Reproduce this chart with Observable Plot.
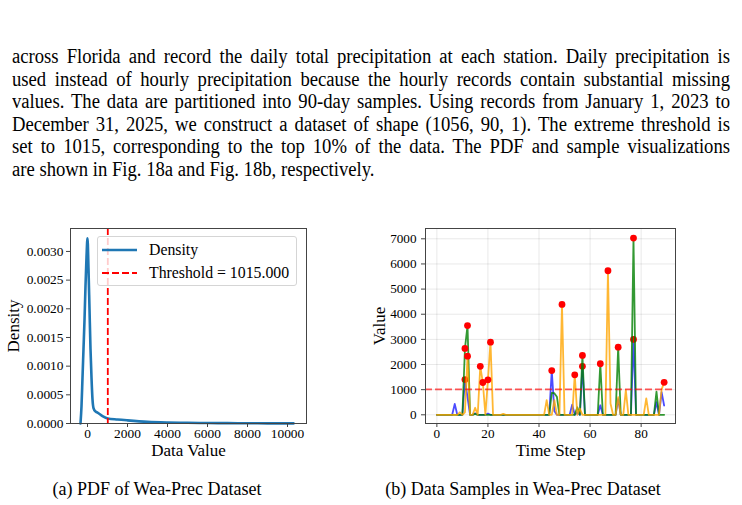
<!DOCTYPE html>
<html><head><meta charset="utf-8">
<script src="https://cdn.jsdelivr.net/npm/d3@7"></script>
<script src="https://cdn.jsdelivr.net/npm/@observablehq/plot@0.6"></script>
<style>
body{margin:0;background:#fff;}
#page{position:relative;width:742px;height:505px;overflow:hidden;font-family:"Liberation Serif","Times New Roman",serif;color:#000;background:#fff;}
.para{position:absolute;left:12px;top:45px;width:789px;font-size:20.5px;line-height:22.6px;transform:scaleX(0.91);transform-origin:0 0;}
.para div{text-align:justify;text-align-last:justify;white-space:nowrap;}
.para div.last{text-align-last:left;}
.chart{position:absolute;top:225px;}
.legend{position:absolute;left:97px;top:236px;width:200px;height:50px;background:rgba(255,255,255,0.8);border:1px solid #d5d5d5;border-radius:3px;box-sizing:border-box;}
.legend svg{position:absolute;left:0;top:0;}
.legend span{position:absolute;left:51px;font-size:15.8px;white-space:nowrap;line-height:18px;}
.cap{position:absolute;top:479px;font-size:18px;white-space:nowrap;transform:translateX(-50%);}
</style></head>
<body><div id="page">
<div class="para">
<div>across Florida and record the daily total precipitation at each station. Daily precipitation is</div>
<div>used instead of hourly precipitation because the hourly records contain substantial missing</div>
<div>values. The data are partitioned into 90-day samples. Using records from January 1, 2023 to</div>
<div>December 31, 2025, we construct a dataset of shape (1056, 90, 1). The extreme threshold is</div>
<div>set to 1015, corresponding to the top 10% of the data. The PDF and sample visualizations</div>
<div class="last">are shown in Fig. 18a and Fig. 18b, respectively.</div>
</div>
<div id="left" class="chart" style="left:0px"></div>
<div id="right" class="chart" style="left:360px"></div>
<div class="legend">
<svg width="200" height="50"><line x1="4" x2="39" y1="13" y2="13" stroke="#1f77b4" stroke-width="2.6"/><line x1="4" x2="39" y1="36" y2="36" stroke="red" stroke-width="1.8" stroke-dasharray="7,3"/></svg>
<span style="top:4px">Density</span>
<span style="top:27px">Threshold = 1015.000</span>
</div>
<div class="cap" style="left:157px">(a) PDF of Wea-Prec Dataset</div>
<div class="cap" style="left:523px">(b) Data Samples in Wea-Prec Dataset</div>
</div>
<script>
// ---- Left panel: KDE of data values ----
const kdeX = [-350,-300,-250,-200,-150,-100,-50,0,50,100,150,200,250,300,400,500,750,1015,1500,2000,3000,4000,5000,6000,7000,8000,9000,10300];
const kdeY = [0,0.0003,0.0008,0.0013,0.0018,0.0024,0.0029,0.00323,0.0027,0.0020,0.0013,0.0008,0.00042,0.00027,0.00021,0.00019,0.00013,0.000088,0.00007,0.000055,0.00003,0.000018,0.000012,0.000008,0.000006,0.000004,0.000003,0.000002];
const threshold = 1015;
const leftXTicks = [0,2000,4000,6000,8000,10000];
const leftYTicks = [0,0.0005,0.0010,0.0015,0.0020,0.0025,0.0030];

// ---- Right panel: three 90-day samples ----
const sampleBlue = [0,0,0,0,0,0,0,430,0,0, 0,1400,700,0,0,60,0,0,0,0, 50,0,0,0,0,0,0,0,0,0, 0,0,0,0,0,0,0,0,0,0, 0,0,0,0,0,1760,150,0,0,0, 0,0,0,400,0,100,0,1930,0,0, 0,0,0,0,380,0,0,0,0,0, 0,620,0,0,0,0,0,3000,0,0, 0,0,0,0,0,0,500,0,900,370];
const sampleGreen = [0,0,0,0,0,0,0,0,0,0, 0,2640,3550,0,0,40,0,0,0,0, 0,0,0,0,0,0,0,0,0,0, 0,0,0,0,0,0,0,0,0,0, 0,0,0,0,0,870,860,720,0,0, 0,0,0,0,0,300,0,2360,0,0, 0,0,0,0,2030,0,0,0,0,0, 0,2690,0,0,0,0,0,7030,0,0, 0,0,0,0,0,0,920,0,0,0];
const sampleOrange = [0,0,0,0,0,0,0,0,0,100, 0,100,2330,0,0,280,0,1930,1285,0, 1390,2890,0,0,0,0,40,0,0,0, 0,0,0,0,0,0,0,0,0,0, 0,0,0,580,0,0,580,0,0,4390, 0,0,0,0,1590,0,250,0,0,0, 0,0,0,0,0,0,0,5730,450,0, 0,700,0,0,980,0,0,0,0,0, 0,0,650,0,0,0,0,0,1000,1290];
const seriesNames = ["blue","green","orange"];
const seriesColors = ["blue","green","orange"];
const seriesOpacity = [0.7,0.8,0.8];
const rightXTicks = [0,20,40,60,80];
const rightYTicks = [0,1000,2000,3000,4000,5000,6000,7000];

const font = "'Liberation Serif','Times New Roman',serif";
const axisColor = "#444";
const tickFont = {fontFamily:font, fontSize:13.4, fill:"#000"};
const labelFont = {fontSize:17, fontFamily:font, textAnchor:"middle", lineAnchor:"middle"};

const kde = kdeX.map((x,i)=>({x, y:kdeY[i]}));
const left = Plot.plot({
  width:320, height:245, marginLeft:70, marginRight:14, marginTop:3, marginBottom:47,
  style:{fontFamily:font, fontSize:"13.4px", background:"transparent", overflow:"visible", color:"#000"},
  x:{domain:[-850,10950], label:null},
  y:{domain:[0,0.0034], label:null},
  marks:[
    Plot.line(kde,{x:"x", y:"y", stroke:"#1f77b4", strokeWidth:2.6, curve:"monotone-x"}),
    Plot.ruleX([threshold],{stroke:"red", strokeWidth:1.8, strokeDasharray:"7,3"}),
    Plot.frame({stroke:axisColor}),
    Plot.axisX({ticks:leftXTicks, tickFormat:d=>String(d), tickSize:4, tickPadding:1, stroke:axisColor, label:null, ...tickFont}),
    Plot.axisY({ticks:leftYTicks, tickFormat:d3.format(".4f"), tickSize:4, tickPadding:3, stroke:axisColor, label:null, ...tickFont}),
    Plot.text(["Data Value"],{frameAnchor:"bottom", dy:27, ...labelFont}),
    Plot.text(["Density"],{frameAnchor:"left", dx:-56.5, rotate:-90, ...labelFont})
  ]
});
document.getElementById("left").appendChild(left);

const marks = [
  Plot.gridX({ticks:rightXTicks, stroke:"#000", strokeOpacity:0.09}),
  Plot.gridY({ticks:rightYTicks, stroke:"#000", strokeOpacity:0.09})
];
const samples = [sampleBlue, sampleGreen, sampleOrange];
samples.forEach((vals, s)=>{
  const rows = vals.map((v,t)=>({t, v, name:seriesNames[s]}));
  marks.push(Plot.line(rows,{x:"t", y:"v", stroke:seriesColors[s], strokeOpacity:seriesOpacity[s], strokeWidth:1.8}));
  marks.push(Plot.dot(rows.filter(d=>d.v>threshold),{x:"t", y:"v", r:3.4, fill:"red", stroke:"none"}));
});
marks.push(
  Plot.ruleY([threshold],{stroke:"red", strokeOpacity:0.65, strokeWidth:1.8, strokeDasharray:"7,3"}),
  Plot.frame({stroke:axisColor}),
  Plot.axisX({ticks:rightXTicks, tickSize:4, tickPadding:1, stroke:axisColor, label:null, ...tickFont, fontSize:13.2}),
  Plot.axisY({ticks:rightYTicks, tickFormat:d=>String(d), tickSize:4, tickPadding:5, stroke:axisColor, label:null, ...tickFont, fontSize:13.2}),
  Plot.text(["Time Step"],{frameAnchor:"bottom", dy:27, ...labelFont}),
  Plot.text(["Value"],{frameAnchor:"left", dx:-46, rotate:-90, ...labelFont})
);
const right = Plot.plot({
  width:320, height:245, marginLeft:65, marginRight:5, marginTop:3, marginBottom:47,
  style:{fontFamily:font, fontSize:"13px", background:"transparent", overflow:"visible", color:"#000"},
  x:{domain:[-4.45,93.45], label:null},
  y:{domain:[-346,7410], label:null},
  marks
});
document.getElementById("right").appendChild(right);
</script>
</body></html>
